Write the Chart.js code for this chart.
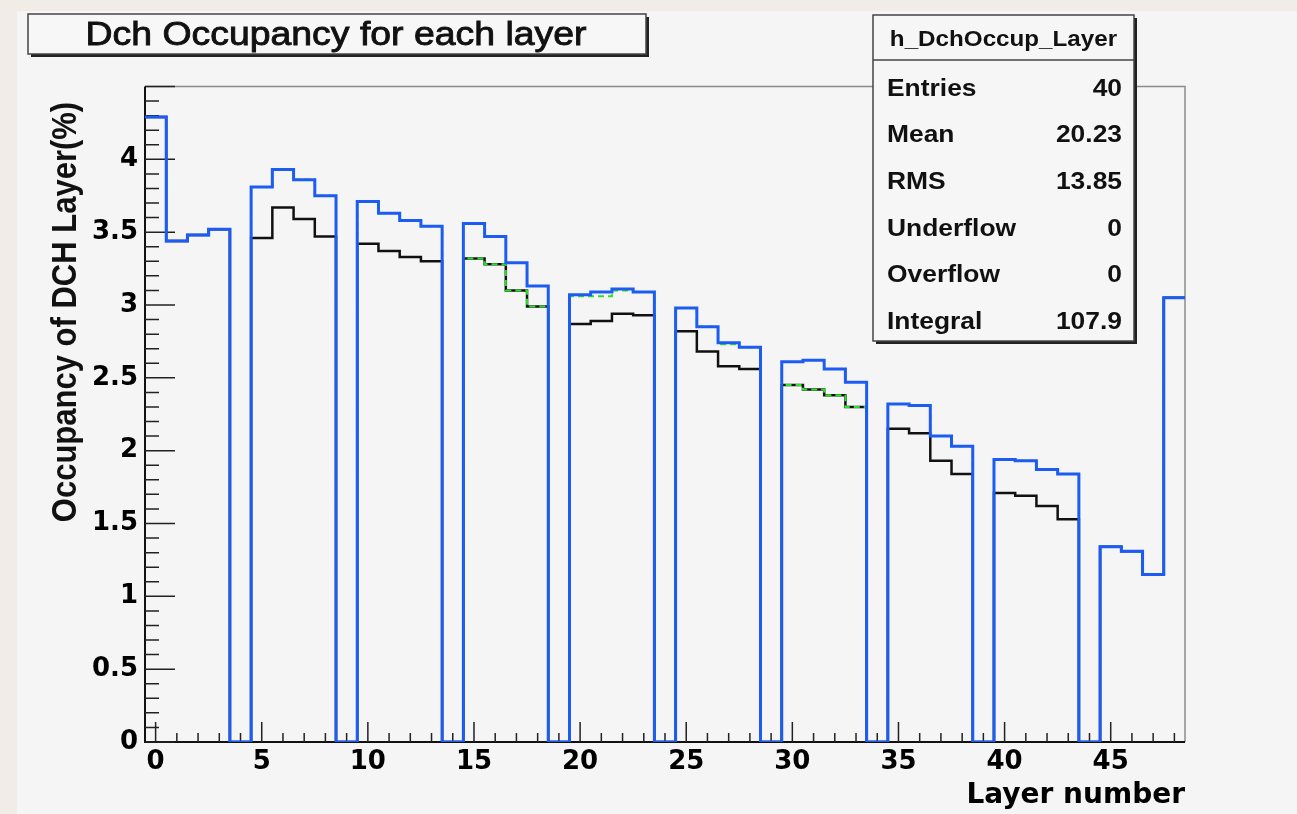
<!DOCTYPE html>
<html>
<head>
<meta charset="utf-8">
<title>Dch Occupancy for each layer</title>
<script src="https://cdn.jsdelivr.net/npm/chart.js@4.4.1/dist/chart.umd.min.js"></script>
<style>
  html, body { margin: 0; padding: 0; background: #f1ede6; overflow: hidden; }
  #sheet { position: absolute; left: 17px; top: 11px; width: 1280px; height: 803px; background: #f5f5f5; }
  #wrap { position: absolute; left: 0; top: 0; width: 1297px; height: 814px; }
</style>
</head>
<body>
<div id="sheet"></div>
<div id="wrap"><canvas id="occChart"></canvas></div>
<script>
// layer number = bin centre
const layers = [0, 1, 2, 3, 4, 5, 6, 7, 8, 9, 10, 11, 12, 13, 14, 15, 16, 17, 18, 19,
    20, 21, 22, 23, 24, 25, 26, 27, 28, 29, 30, 31, 32, 33, 34, 35, 36, 37, 38, 39,
    40, 41, 42, 43, 44, 45, 46, 47, 48];

// blue histogram (h_DchOccup_Layer)
const occBlue = [4.29, 3.44, 3.48, 3.52, 0, 3.81, 3.93, 3.86, 3.75, 0,
    3.71, 3.63, 3.58, 3.54, 0, 3.56, 3.47, 3.29, 3.13, 0,
    3.07, 3.09, 3.11, 3.09, 0, 2.98, 2.85, 2.74, 2.71, 0,
    2.61, 2.62, 2.56, 2.47, 0, 2.32, 2.31, 2.10, 2.03, 0,
    1.94, 1.93, 1.87, 1.84, 0, 1.34, 1.31, 1.15, 3.05];

// black histogram
const occBlack = [4.29, 3.44, 3.48, 3.52, 0, 3.46, 3.67, 3.59, 3.47, 0,
    3.42, 3.37, 3.33, 3.30, 0, 3.32, 3.28, 3.10, 2.99, 0,
    2.87, 2.89, 2.94, 2.93, 0, 2.82, 2.68, 2.58, 2.56, 0,
    2.45, 2.42, 2.38, 2.30, 0, 2.15, 2.12, 1.93, 1.84, 0,
    1.71, 1.69, 1.62, 1.53, 0, 1.34, 1.31, 1.15, 3.05];

// green dashed histogram
const occGreen = [4.29, 3.44, 3.48, 3.52, 0, 3.81, 3.93, 3.86, 3.75, 0,
    3.71, 3.63, 3.58, 3.54, 0, 3.32, 3.28, 3.10, 2.99, 0,
    3.06, 3.06, 3.10, 3.09, 0, 2.98, 2.85, 2.73, 2.71, 0,
    2.45, 2.42, 2.38, 2.30, 0, 2.32, 2.31, 2.10, 2.03, 0,
    1.94, 1.93, 1.87, 1.84, 0, 1.34, 1.31, 1.15, 3.05];

const xTickValues = [0, 5, 10, 15, 20, 25, 30, 35, 40, 45];
const xTickLabels = ['0', '5', '10', '15', '20', '25', '30', '35', '40', '45'];
const yTickValues = [0, 0.5, 1, 1.5, 2, 2.5, 3, 3.5, 4];
const yTickLabels = ['0', '0.5', '1', '1.5', '2', '2.5', '3', '3.5', '4'];

const statNames = ['Entries', 'Mean', 'RMS', 'Underflow', 'Overflow', 'Integral'];
const statValues = ['40', '20.23', '13.85', '0', '0', '107.9'];

// turn bin values into left-edge points, plus the closing right edge
function histPoints(values) {
    const pts = layers.map((l, i) => ({ x: l - 0.5, y: values[i] }));
    pts.push({ x: layers[layers.length - 1] + 0.5, y: values[values.length - 1] });
    return pts;
}

// text drawn a little wider, like the stretched original
function wideText(ctx, text, x, y, align, sx, thick) {
    ctx.save();
    ctx.translate(x, y);
    ctx.scale(sx, 1);
    ctx.textAlign = align;
    ctx.fillText(text, 0, 0);
    if (thick) {
        ctx.lineWidth = thick;
        ctx.strokeStyle = ctx.fillStyle;
        ctx.strokeText(text, 0, 0);
    }
    ctx.restore();
}

const rootStyle = {
    id: 'rootStyle',
    beforeDatasetsDraw(chart) {
        const { ctx, chartArea: a, scales: { x, y } } = chart;
        ctx.save();
        // grey frame on top and right
        ctx.strokeStyle = '#8c8c8c';
        ctx.lineWidth = 1.5;
        ctx.beginPath();
        ctx.moveTo(a.left, a.top);
        ctx.lineTo(a.right, a.top);
        ctx.lineTo(a.right, a.bottom);
        ctx.stroke();

        // black axes
        ctx.strokeStyle = '#111';
        ctx.lineWidth = 2;
        ctx.beginPath();
        ctx.moveTo(a.left, a.top);
        ctx.lineTo(a.left, a.bottom);
        ctx.lineTo(a.right, a.bottom);
        ctx.stroke();

        // inward ticks
        ctx.lineWidth = 1.5;
        ctx.strokeStyle = '#222';
        ctx.beginPath();
        for (let k = 0; k <= 45; k++) {
            const py = y.getPixelForValue(k / 10);
            const len = k % 5 === 0 ? 30 : 14;
            ctx.moveTo(a.left, py);
            ctx.lineTo(a.left + len, py);
        }
        for (let k = 0; k <= 48; k++) {
            const px = x.getPixelForValue(k);
            const len = k % 5 === 0 ? 20 : 9;
            ctx.moveTo(px, a.bottom);
            ctx.lineTo(px, a.bottom - len);
        }
        ctx.stroke();
        ctx.restore();
    },
    afterDraw(chart) {
        const { ctx } = chart;
        ctx.save();

        // title box
        ctx.fillStyle = '#222';
        ctx.fillRect(31, 17, 618, 40);
        ctx.fillStyle = '#f7f7f7';
        ctx.fillRect(28, 14, 618, 40);
        ctx.strokeStyle = '#444';
        ctx.lineWidth = 1.5;
        ctx.strokeRect(28, 14, 618, 40);
        ctx.fillStyle = '#111';
        ctx.textBaseline = 'middle';
        ctx.font = '34px "Liberation Sans", Arial, sans-serif';
        wideText(ctx, 'Dch Occupancy for each layer', 336, 36, 'center', 1.1, 0.9);

        // stats box
        const bx = 873, by = 15, bw = 261, bh = 326;
        ctx.fillStyle = '#222';
        ctx.fillRect(bx + 3, by + 3, bw, bh);
        ctx.fillStyle = '#f6f6f6';
        ctx.fillRect(bx, by, bw, bh);
        ctx.strokeStyle = '#444';
        ctx.lineWidth = 1.5;
        ctx.strokeRect(bx, by, bw, bh);
        ctx.beginPath();
        ctx.moveTo(bx, 60);
        ctx.lineTo(bx + bw, 60);
        ctx.stroke();
        ctx.fillStyle = '#111';
        ctx.font = 'bold 22px "Liberation Sans", Arial, sans-serif';
        wideText(ctx, 'h_DchOccup_Layer', bx + bw / 2, 40, 'center', 1.1);
        ctx.font = 'bold 24px "Liberation Sans", Arial, sans-serif';
        statNames.forEach((name, i) => {
            const ry = 89 + i * 46.7;
            wideText(ctx, name, 887, ry, 'left', 1.1);
            wideText(ctx, statValues[i], 1122, ry, 'right', 1.1);
        });

        // y axis title
        ctx.font = 'bold 31px "Liberation Sans", Arial, sans-serif';
        ctx.translate(66, 312);
        ctx.scale(1.15, 1);
        ctx.rotate(-Math.PI / 2);
        ctx.textAlign = 'center';
        ctx.fillText('Occupancy of DCH Layer(%)', 0, 0);
        ctx.restore();
    }
};

const tickFont = { family: 'DejaVu Sans', weight: 'bold', size: 26 };

const config = {
    type: 'line',
    data: {
        datasets: [
            { label: 'blue', data: histPoints(occBlue), borderColor: '#1d5cf2', borderWidth: 3,
              stepped: 'before', pointRadius: 0, fill: false },
            { label: 'green', data: histPoints(occGreen), borderColor: '#2ee02e', borderWidth: 2,
              borderDash: [6, 4], stepped: 'before', pointRadius: 0, fill: false },
            { label: 'black', data: histPoints(occBlack), borderColor: '#111', borderWidth: 2.5,
              stepped: 'before', pointRadius: 0, fill: false }
        ]
    },
    options: {
        responsive: true,
        maintainAspectRatio: false,
        animation: false,
        layout: { padding: { left: 0, top: 86.5, right: 112, bottom: 0 } },
        plugins: {
            legend: { display: false },
            tooltip: { enabled: false },
            title: { display: false }
        },
        scales: {
            x: {
                type: 'linear',
                min: -0.5,
                max: 48.5,
                grid: { display: false, drawTicks: false },
                border: { display: false },
                afterBuildTicks: s => { s.ticks = xTickValues.map(v => ({ value: v })); },
                afterFit: s => { s.height = 72; },
                ticks: {
                    autoSkip: false, maxRotation: 0, padding: 5, color: '#000', font: tickFont,
                    callback: (v, i) => xTickLabels[i]
                },
                title: {
                    display: true, text: 'Layer number', align: 'end', color: '#000',
                    font: { family: 'DejaVu Sans', weight: 'bold', size: 28 },
                    padding: { top: 0, bottom: 1 }
                }
            },
            y: {
                type: 'linear',
                min: 0,
                max: 4.5,
                grid: { display: false, drawTicks: false },
                border: { display: false },
                afterBuildTicks: s => { s.ticks = yTickValues.map(v => ({ value: v })); },
                afterFit: s => { s.width = 145; },
                ticks: {
                    autoSkip: false, padding: 7, color: '#000', font: tickFont,
                    callback: (v, i) => yTickLabels[i]
                }
            }
        }
    },
    plugins: [rootStyle]
};

const occChart = new Chart(document.getElementById('occChart').getContext('2d'), config);
</script>
</body>
</html>
